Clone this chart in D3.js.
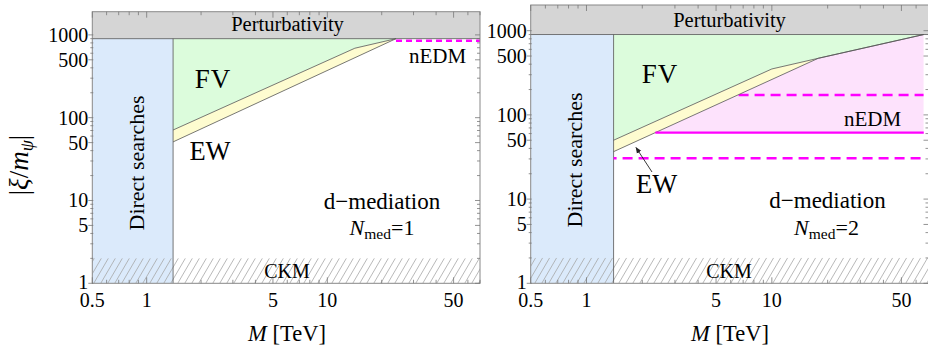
<!DOCTYPE html>
<html><head><meta charset="utf-8">
<script src="https://cdn.jsdelivr.net/npm/d3@7"></script>
<style>
body{margin:0;background:#fff;}
text{font-family:"Liberation Serif","Times New Roman",serif;fill:#000;}
</style>
</head><body>
<svg id="chart" width="928" height="348"></svg>
<script>
// ---------- data ----------
const xTickLabels = [0.5, 1, 5, 10, 50];
const xMinorTicks = [0.6, 0.7, 0.8, 0.9, 2, 3, 4, 6, 7, 8, 9, 20, 30, 40, 60, 70];
const yTickLabels = [1, 5, 10, 50, 100, 500, 1000];
const yMinorTicks = [2, 3, 4, 6, 7, 8, 9, 20, 30, 40, 60, 70, 80, 90, 200, 300, 400, 600, 700, 800, 900];
const directSearchMass = 1.4;      // TeV
const perturbativityLimit = 900;
const ckmLimit = 2;

// panel 1: N_med = 1
const fvLine1 = [[1.4, 71], [14.2, 690], [24, 900]];
const ewLine1 = [[1.4, 51], [24, 900]];
const nedmDashed1 = [[24, 850], [70, 850]];

// panel 2: N_med = 2
const fvLine2 = [[1.4, 50], [10, 351], [17.8, 470], [66, 900]];
const ewLine2 = [[1.4, 36.6], [17.8, 470], [66, 900]];
const nedmSolid2 = [[2.35, 61.5], [66, 61.5]];
const nedmDashedHigh2 = [[1.4, 172], [66, 172]];
const nedmDashedLow2 = [[1.4, 30.5], [66, 30.5]];

// ---------- layout ----------
const svg = d3.select("#chart");
const defs = svg.append("defs");
const hatch = defs.append("pattern").attr("id", "hatch")
  .attr("patternUnits", "userSpaceOnUse").attr("width", 7).attr("height", 12);
hatch.append("path").attr("d", "M-0.6,13 L7.6,-1 M-7.6,13 L0.6,-1 M6.4,13 L14.6,-1")
  .attr("stroke", "#a6a6a6").attr("stroke-width", 0.8).attr("fill", "none");

const panels = [
  {id: 1, x0: 92.3, x1: 480, yTop: 11.7, yBot: 283.3, xMin: 0.5, xMax: 70, yMax: 1905,
   fv: fvLine1, ew: ewLine1, med: "1",
   pert: [287.5, 31], direct: [144, 163], fvLbl: [213, 88], ewLbl: [210, 160],
   nedmLbl: [437.5, 62.5], medLbl: [382, 209], nLbl: [382, 235], ckm: [287, 278], xTitle: [287, 341]},
  {id: 2, x0: 530.7, x1: 928.5, yTop: 5, yBot: 283.3, xMin: 0.5, xMax: 70, yMax: 2018,
   fv: fvLine2, ew: ewLine2, med: "2",
   pert: [729.5, 27], direct: [581.5, 160], fvLbl: [660, 83], ewLbl: [656.7, 193],
   nedmLbl: [872.5, 126], medLbl: [827.5, 208], nLbl: [826.5, 235], ckm: [729, 278], xTitle: [730, 341]}
];

const lineGen = (x, y) => d3.line().x(d => x(d[0])).y(d => y(d[1]));

panels.forEach(p => {
  const x = d3.scaleLog().domain([p.xMin, p.xMax]).range([p.x0, p.x1]);
  const y = d3.scaleLog().domain([1, p.yMax]).range([p.yBot, p.yTop]);
  const line = lineGen(x, y);

  defs.append("clipPath").attr("id", "clip" + p.id).append("rect")
    .attr("x", p.x0).attr("y", p.yTop).attr("width", p.x1 - p.x0).attr("height", p.yBot - p.yTop);

  const g = svg.append("g").attr("clip-path", `url(#clip${p.id})`);

  // perturbativity band
  g.append("rect").attr("x", p.x0).attr("width", p.x1 - p.x0)
    .attr("y", y(p.yMax)).attr("height", y(perturbativityLimit) - y(p.yMax)).attr("fill", "#d5d5d5");
  // direct searches
  g.append("rect").attr("x", x(p.xMin)).attr("width", x(directSearchMass) - x(p.xMin))
    .attr("y", y(perturbativityLimit)).attr("height", y(1) - y(perturbativityLimit)).attr("fill", "#dbeafb");
  // FV region (green)
  const fvPoly = p.fv.concat([[directSearchMass, perturbativityLimit]]);
  g.append("path").attr("d", line(fvPoly) + "Z").attr("fill", "#dcfcdc");
  // EW band (yellow)
  const ewPoly = p.fv.concat(p.ew.slice().reverse());
  g.append("path").attr("d", line(ewPoly) + "Z").attr("fill", "#fefcd0");

  if (p.id === 2) {
    const belowEW = p.ew.concat([[p.ew[p.ew.length - 1][0], 1], [p.ew[0][0], 1]]);
    defs.append("clipPath").attr("id", "belowEW").append("path").attr("d", line(belowEW) + "Z");
    const gp = g.append("g").attr("clip-path", "url(#belowEW)");
    gp.append("rect").attr("x", x(nedmSolid2[0][0])).attr("width", x(nedmSolid2[1][0]) - x(nedmSolid2[0][0]))
      .attr("y", y(perturbativityLimit)).attr("height", y(nedmSolid2[0][1]) - y(perturbativityLimit))
      .attr("fill", "#fde2fc");
    gp.append("path").attr("d", line(nedmDashedHigh2)).attr("fill", "none")
      .attr("stroke", "#ff00ff").attr("stroke-width", 2.4).attr("stroke-dasharray", "10,6").attr("stroke-dashoffset", 3);
  }

  // CKM hatch
  g.append("rect").attr("x", p.x0).attr("width", p.x1 - p.x0)
    .attr("y", y(ckmLimit)).attr("height", y(1) - y(ckmLimit)).attr("fill", "url(#hatch)");

  // boundary lines
  const bl = {stroke: "#555", "stroke-width": 0.8, fill: "none"};
  const applyAttrs = (sel, a) => { Object.entries(a).forEach(([k, v]) => sel.attr(k, v)); return sel; };
  applyAttrs(g.append("path").attr("d", line([[p.xMin, perturbativityLimit], [p.xMax, perturbativityLimit]])), bl);
  applyAttrs(g.append("path").attr("d", line([[directSearchMass, 1], [directSearchMass, perturbativityLimit]])), bl);
  applyAttrs(g.append("path").attr("d", line(p.fv)), bl);
  applyAttrs(g.append("path").attr("d", line(p.ew)), bl);

  // nEDM lines
  if (p.id === 1) {
    g.append("path").attr("d", line(nedmDashed1)).attr("fill", "none")
      .attr("stroke", "#ff00ff").attr("stroke-width", 2.4).attr("stroke-dasharray", "6,4");
  } else {
    g.append("path").attr("d", line(nedmSolid2)).attr("fill", "none")
      .attr("stroke", "#ff00ff").attr("stroke-width", 2.2);
    g.append("path").attr("d", line(nedmDashedLow2)).attr("fill", "none")
      .attr("stroke", "#ff00ff").attr("stroke-width", 2.4).attr("stroke-dasharray", "10,6").attr("stroke-dashoffset", -9);
  }

  // frame
  svg.append("rect").attr("x", p.x0).attr("y", p.yTop).attr("width", p.x1 - p.x0).attr("height", p.yBot - p.yTop)
    .attr("fill", "none").attr("stroke", "#888").attr("stroke-width", 1);
  const tk = svg.append("g").attr("stroke", "#777").attr("stroke-width", 0.8);
  const xMaj = xTickLabels, yMaj = yTickLabels;
  xMaj.concat(xMinorTicks).forEach(v => {
    if (v < p.xMin || v > p.xMax) return;
    const L = xMaj.includes(v) ? 6 : 3.5;
    tk.append("line").attr("x1", x(v)).attr("x2", x(v)).attr("y1", p.yBot).attr("y2", p.yBot - L);
    tk.append("line").attr("x1", x(v)).attr("x2", x(v)).attr("y1", p.yTop).attr("y2", p.yTop + L);
  });
  yMaj.concat(yMinorTicks).forEach(v => {
    if (v > p.yMax) return;
    const L = yMaj.includes(v) ? 5 : 3;
    tk.append("line").attr("x1", p.x0 - L + 1).attr("x2", p.x0 + 1).attr("y1", y(v)).attr("y2", y(v));
    tk.append("line").attr("x1", p.x1).attr("x2", p.x1 - L).attr("y1", y(v)).attr("y2", y(v));
  });

  // tick labels
  xTickLabels.forEach(v => {
    svg.append("text").attr("x", x(v)).attr("y", 307).attr("text-anchor", "middle")
      .attr("font-size", 20).text(v);
  });
  yTickLabels.forEach(v => {
    svg.append("text").attr("x", p.x0 - 4).attr("y", y(v)).attr("dy", v === 1 ? "0.3em" : "0.35em").attr("text-anchor", "end")
      .attr("font-size", 20).text(v);
  });

  // labels
  const t = (xy, s, fs) => svg.append("text").attr("x", xy[0]).attr("y", xy[1])
    .attr("text-anchor", "middle").attr("font-size", fs).text(s);
  t(p.pert, "Perturbativity", 20.5);
  svg.append("text").attr("transform", `translate(${p.direct[0]},${p.direct[1]}) rotate(-90)`)
    .attr("text-anchor", "middle").attr("font-size", 22).text("Direct searches");
  t(p.fvLbl, "FV", 27).attr("letter-spacing", 1);
  t(p.ewLbl, "EW", 26.5);
  t(p.nedmLbl, "nEDM", 21);
  t(p.medLbl, "d\u2212mediation", 23);
  const nt = svg.append("text").attr("x", p.nLbl[0]).attr("y", p.nLbl[1])
    .attr("text-anchor", "middle").attr("font-size", 22);
  nt.append("tspan").attr("font-style", "italic").text("N");
  nt.append("tspan").attr("font-size", 15.5).attr("dy", 4).text("med");
  nt.append("tspan").attr("dy", -4).text("=" + p.med);
  t(p.ckm, "CKM", 20);

  const xt = svg.append("text").attr("x", p.xTitle[0]).attr("y", p.xTitle[1])
    .attr("text-anchor", "middle").attr("font-size", 22.5);
  xt.append("tspan").attr("font-style", "italic").text("M");
  xt.append("tspan").text(" [TeV]");
});

// arrow for EW in panel 2
defs.append("marker").attr("id", "arr").attr("viewBox", "0 0 10 10").attr("refX", 9).attr("refY", 5)
  .attr("markerWidth", 7).attr("markerHeight", 7).attr("orient", "auto")
  .append("path").attr("d", "M0,1 L10,5 L0,9 Z").attr("fill", "#222");
svg.append("line").attr("x1", 652).attr("y1", 172).attr("x2", 636).attr("y2", 147.5)
  .attr("stroke", "#222").attr("stroke-width", 0.9).attr("marker-end", "url(#arr)");

// y-axis title
const yt = svg.append("text").attr("transform", "translate(28,165) rotate(-90)")
  .attr("text-anchor", "middle").attr("font-size", 27);
yt.append("tspan").text("|");
yt.append("tspan").attr("font-style", "italic").text("\u03BE");
yt.append("tspan").text("/");
yt.append("tspan").attr("font-style", "italic").text("m");
yt.append("tspan").attr("font-style", "italic").attr("font-size", 18).attr("dy", 5).text("\u03C8");
yt.append("tspan").attr("dy", -5).text("|");
</script>
</body></html>
